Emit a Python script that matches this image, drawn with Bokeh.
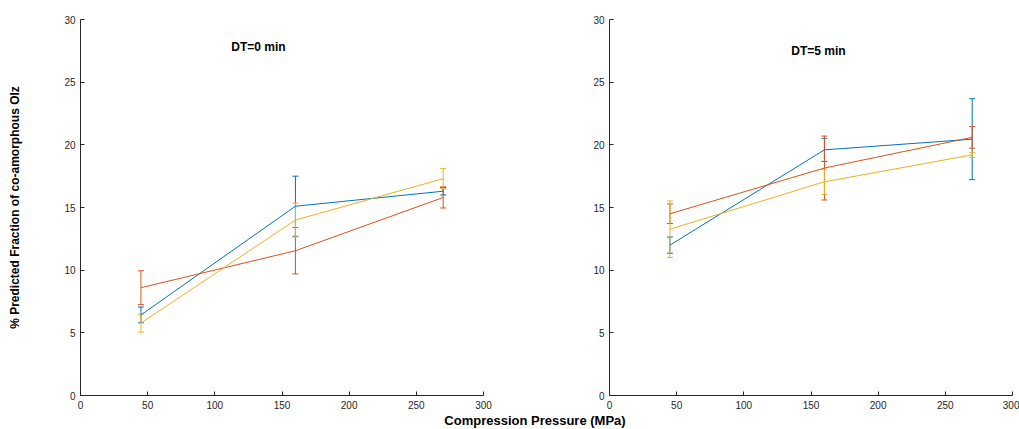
from bokeh.plotting import figure
from bokeh.models import ColumnDataSource, Whisker, TeeHead, Label, Div, FixedTicker
from bokeh.layouts import row, column
from bokeh.embed import file_html
from bokeh.resources import INLINE

# ---- data ----
pressure = [45, 160, 270]

dt0_blue = [6.43, 15.1, 16.3]
dt0_blue_err = [0.63, 2.4, 0.3]
dt0_red = [8.6, 11.55, 15.8]
dt0_red_err = [1.35, 1.85, 0.84]
dt0_yellow = [5.78, 14.0, 17.3]
dt0_yellow_err = [0.72, 1.35, 0.8]

dt5_blue = [12.0, 19.6, 20.45]
dt5_blue_err = [0.65, 0.92, 3.23]
dt5_red = [14.5, 18.15, 20.6]
dt5_red_err = [0.78, 2.55, 0.87]
dt5_yellow = [13.27, 17.05, 19.2]
dt5_yellow_err = [2.25, 1.0, 0.2]

x_ticks = [0, 50, 100, 150, 200, 250, 300]
y_ticks = [0, 5, 10, 15, 20, 25, 30]

colors = ["#0072BD", "#D95319", "#EDB120"]
AX = "#262626"
FONT = "Liberation Sans"


def make_panel(series, title, width, border_left, border_right, ylabel=None, title_xy=(0, 0)):
    p = figure(width=width, height=413, x_range=(0, 300), y_range=(0, 30),
               output_backend="svg", toolbar_location=None,
               min_border_left=border_left, min_border_right=border_right,
               min_border_top=19, min_border_bottom=18)
    p.outline_line_color = None
    p.grid.visible = False
    for ax in (p.xaxis[0], p.yaxis[0]):
        ax.axis_line_color = AX
        ax.major_tick_line_color = AX
        ax.major_tick_in = 4
        ax.major_tick_out = 0
        ax.minor_tick_line_color = None
        ax.major_label_text_font = FONT
        ax.major_label_text_font_size = "10px"
        ax.major_label_text_color = AX
        ax.major_label_standoff = 5
    p.xaxis[0].ticker = FixedTicker(ticks=x_ticks)
    p.yaxis[0].ticker = FixedTicker(ticks=y_ticks)
    if ylabel:
        p.yaxis[0].axis_label = ylabel
        p.yaxis[0].axis_label_text_font = FONT
        p.yaxis[0].axis_label_text_font_style = "bold"
        p.yaxis[0].axis_label_text_font_size = "12px"
        p.yaxis[0].axis_label_text_color = "#000000"
        p.yaxis[0].axis_label_standoff = 39

    for (vals, errs), c in zip(series, colors):
        src = ColumnDataSource(dict(
            x=pressure, y=vals,
            upper=[v + e for v, e in zip(vals, errs)],
            lower=[v - e for v, e in zip(vals, errs)],
        ))
        p.line("x", "y", source=src, line_color=c, line_width=1)
        w = Whisker(base="x", upper="upper", lower="lower", source=src,
                    dimension="height", line_color=c, line_width=1,
                    upper_head=TeeHead(size=6, line_color=c, line_width=1),
                    lower_head=TeeHead(size=6, line_color=c, line_width=1))
        p.add_layout(w)

    p.add_layout(Label(x=title_xy[0], y=title_xy[1], text=title,
                       text_font=FONT, text_font_style="bold", text_font_size="12px",
                       text_align="center", text_baseline="middle", text_color="#000000"))
    return p


p1 = make_panel([(dt0_blue, dt0_blue_err), (dt0_red, dt0_red_err), (dt0_yellow, dt0_yellow_err)],
                "DT=0 min", 537, 80, 54,
                ylabel="% Predicted Fraction of co-amorphous Olz", title_xy=(132.5, 27.8))
p2 = make_panel([(dt5_blue, dt5_blue_err), (dt5_red, dt5_red_err), (dt5_yellow, dt5_yellow_err)],
                "DT=5 min", 482, 72, 7, title_xy=(155.6, 27.5))

xlab = Div(text=('<div style="box-sizing:border-box; width:1019px; padding-left:51px; padding-top:1px; '
                 'text-align:center; white-space:nowrap; font-family:\'Liberation Sans\'; '
                 'font-weight:bold; font-size:13px; line-height:13px; color:#000;">'
                 'Compression Pressure (MPa)</div>'),
           width=1019, height=16, margin=0, styles={"overflow": "hidden"})

layout = column(row(p1, p2), xlab)
open("out.html", "w").write(file_html(layout, INLINE))
